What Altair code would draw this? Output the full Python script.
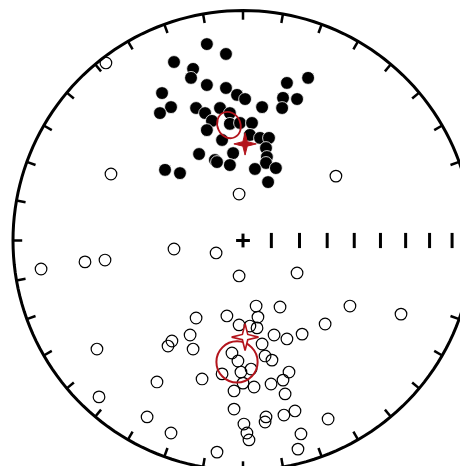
import math
import numpy as np
import pandas as pd
import altair as alt

# Equal-area net coordinates (net radius = 100 units)
# Lower-hemisphere (filled) directions
filled_x = [-15.7, -7.4, -30.0, -21.7, -22.6, -15.7, -7.4, -35.2, -31.3, -36.1,
            -20.4, -16.5, -10.0, -5.7, -13.5, -5.7, -1.3, 3.9, -15.7, -9.1,
            3.0, 7.4, 11.3, 10.0, 10.4, 10.0, 5.2, 14.3, 10.9, -4.3,
            -12.2, -5.7, -19.1, -11.3, -33.9, -27.4, -2.6, 0.9, 8.3, 17.4,
            23.5, 19.1, 28.3, 17.0]
filled_y = [85.4, 81.1, 77.6, 74.6, 70.7, 67.6, 66.3, 64.1, 58.0, 55.4,
            57.6, 55.4, 57.6, 55.4, 52.0, 50.7, 51.1, 51.1, 48.0, 43.7,
            45.9, 44.6, 44.6, 40.2, 36.3, 33.7, 31.1, 31.5, 25.4, 38.0,
            35.0, 32.8, 37.6, 34.1, 30.7, 29.3, 63.3, 61.5, 58.0, 62.0,
            61.5, 68.5, 70.7, 57.6]

# Upper-hemisphere (open) directions
open_x = [-59.6, -57.4, 40.4, -1.7, -30.0, -11.7, -87.8, -68.7, -60.0, -1.7,
          23.5, -20.4, -7.0, -23.0, -30.9, -32.6, -21.7, -63.5, -4.8, -9.1,
          -17.8, -37.4, -62.6, -3.9, -3.9, -41.7, -31.3, -11.3, 5.7, 16.1,
          46.5, 68.7, 6.5, 35.7, 3.0, 6.1, 13.5, 19.1, 25.7, 8.3,
          9.6, 12.6, 3.5, -0.9, 20.0, 17.4, 12.2, 4.8, 0.0, 18.3,
          22.6, 17.8, 10.0, 9.6, 37.0, 0.4, 1.7, 2.6, 25.2, 23.9,
          -1.7, -2.2]
open_y = [77.2, 28.9, 28.0, 20.2, -3.7, -5.4, -12.4, -9.3, -8.5, -15.4,
          -14.1, -33.7, -32.8, -41.1, -43.7, -45.9, -47.2, -47.2, -48.9, -58.0,
          -60.2, -61.5, -68.0, -65.4, -73.3, -76.7, -83.7, -92.0, -28.5, -28.9,
          -28.5, -32.0, -33.3, -36.3, -37.2, -38.0, -41.1, -42.8, -40.7, -45.0,
          -50.2, -52.0, -55.9, -57.2, -57.2, -60.7, -62.4, -63.7, -62.0, -66.7,
          -74.1, -75.9, -76.7, -78.9, -77.6, -79.8, -83.7, -86.7, -84.1, -90.7,
          -36.7, -52.4]

# Mean directions and confidence ovals
mean_lower = {"x": [0.9], "y": [42.0]}
mean_upper = {"x": [0.9], "y": [-42.0]}
oval_lower = {"x": [-6.1], "y": [50.2]}
circle_upper = {"x": [-2.6], "y": [-52.8]}

# Net furniture
tick_azimuths = list(range(0, 360, 10))
inc_ticks = [80, 70, 60, 50, 40, 30, 20, 10]

RED = "#b3141c"
PAD_L, PAD_T = 5, 2
W, H = 447, 456
PX = 2.3  # pixels per unit
x_dom = [-100.0, (W - 230) / PX]
y_dom = [(230.5 - H) / PX, 230.5 / PX]
xs = alt.Scale(domain=x_dom, nice=False, zero=False)
ys = alt.Scale(domain=y_dom, nice=False, zero=False)


def X(f="x"):
    return alt.X(f"{f}:Q", scale=xs, axis=None)


def Y(f="y"):
    return alt.Y(f"{f}:Q", scale=ys, axis=None)


ang = np.arange(0, 361, 2)
circ = pd.DataFrame({"x": 100 * np.sin(np.radians(ang)),
                     "y": 100 * np.cos(np.radians(ang)), "o": ang})
outer = alt.Chart(circ).mark_line(color="black", strokeWidth=3).encode(
    x=X(), y=Y(), order="o:Q")

tk = pd.DataFrame({"az": tick_azimuths})
tk["x"] = 100 * np.sin(np.radians(tk["az"]))
tk["y"] = 100 * np.cos(np.radians(tk["az"]))
tk["x2"] = 96 * np.sin(np.radians(tk["az"]))
tk["y2"] = 96 * np.cos(np.radians(tk["az"]))
rim_ticks = alt.Chart(tk).mark_rule(color="black", strokeWidth=2.5).encode(
    x=X(), y=Y(), x2="x2:Q", y2="y2:Q")

it = pd.DataFrame({"inc": inc_ticks})
it["x"] = 100 * math.sqrt(2) * np.sin(np.radians((90 - it["inc"]) / 2))
it["y"] = -3.3
it["y2"] = 3.3
inc_rules = alt.Chart(it).mark_rule(color="black", strokeWidth=3).encode(
    x=X(), y=Y(), y2="y2:Q")

plus = pd.DataFrame({"x": [-3.0, 0.0], "x2": [3.0, 0.0],
                     "y": [0.0, -3.0], "y2": [0.0, 3.0]})
plus_rules = alt.Chart(plus).mark_rule(color="black", strokeWidth=3).encode(
    x=X(), y=Y(), x2="x2:Q", y2="y2:Q")

open_pts = alt.Chart(pd.DataFrame({"x": open_x, "y": open_y})).mark_point(
    shape="circle", filled=False, color="black", strokeWidth=1.2, size=135,
    opacity=1).encode(x=X(), y=Y())

filled_pts = alt.Chart(pd.DataFrame({"x": filled_x, "y": filled_y})).mark_point(
    shape="circle", filled=True, fill="black", stroke="white", strokeWidth=0.8,
    size=165, opacity=1).encode(x=X(), y=Y())

ellipse_path = "M-0.85,0 A0.85,1 0 1,1 0.85,0 A0.85,1 0 1,1 -0.85,0 Z"
star_path = ("M0,-1 L0.2,-0.2 L1,0 L0.2,0.2 L0,1 L-0.2,0.2 L-1,0 "
             "L-0.2,-0.2 Z")

oval = alt.Chart(pd.DataFrame(oval_lower)).mark_point(
    shape=ellipse_path, filled=False, color=RED, strokeWidth=1.8, size=729,
    angle=335, opacity=1).encode(x=X(), y=Y())

a95 = alt.Chart(pd.DataFrame(circle_upper)).mark_point(
    shape="circle", filled=False, color=RED, strokeWidth=2, size=1700,
    opacity=1).encode(x=X(), y=Y())

star_f = alt.Chart(pd.DataFrame(mean_lower)).mark_point(
    shape=star_path, filled=True, fill=RED, stroke=RED, strokeWidth=1,
    size=500, opacity=1).encode(x=X(), y=Y())

star_o = alt.Chart(pd.DataFrame(mean_upper)).mark_point(
    shape=star_path, filled=True, fill="white", stroke=RED, strokeWidth=1.6,
    size=720, opacity=1).encode(x=X(), y=Y())

chart = alt.layer(
    open_pts, filled_pts, outer, rim_ticks, inc_rules, plus_rules,
    a95, oval, star_f, star_o
).properties(
    width=W, height=H,
    autosize=alt.AutoSizeParams(type="none"),
    padding={"left": PAD_L, "top": PAD_T, "right": 0, "bottom": 0},
).configure_view(stroke=None)

chart.save("out.html", embed_options={"renderer": "svg", "actions": False})
